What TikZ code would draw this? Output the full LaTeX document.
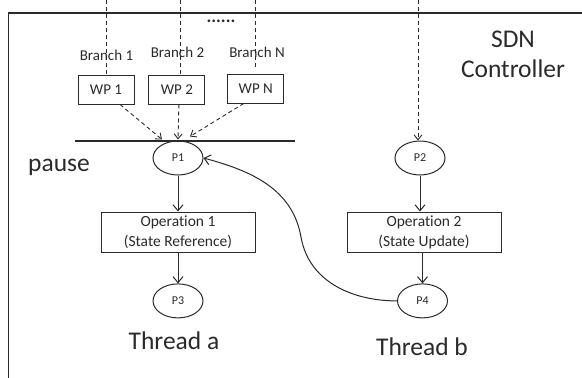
\documentclass[tikz,border=0pt]{standalone}
\usepackage{fontspec}
\setmainfont[Ligatures=NoCommon]{Carlito}
\usetikzlibrary{positioning,shapes.geometric,arrows.meta}
\definecolor{ink}{HTML}{2A2A2A}
\tikzset{
  place/.style={ellipse,draw=ink,line width=1pt,minimum width=50pt,minimum height=34pt,inner sep=0pt,font=\fontsize{12}{14}\selectfont},
  opbox/.style={rectangle,draw=ink,line width=0.9pt,minimum width=154pt,minimum height=40pt,inner sep=0pt,align=center,font=\fontsize{15.5}{20}\selectfont},
  wpbox/.style={rectangle,draw=ink,line width=0.9pt,minimum width=56pt,minimum height=29pt,inner sep=0pt,font=\fontsize{15}{18}\selectfont},
  small/.style={font=\fontsize{15}{18}\selectfont,inner sep=0pt,anchor=base},
  big/.style={font=\fontsize{25.5}{30}\selectfont,inner sep=0pt,anchor=base},
  flow/.style={draw=ink,line width=1pt,-{Straight Barb[length=6pt,width=10pt]}},
  branchline/.style={draw=ink,line width=0.9pt,dash pattern=on 4pt off 3pt},
  feedline/.style={branchline,-{Straight Barb[length=5pt,width=8pt]}},
}
\begin{document}
\begin{tikzpicture}[x=1pt,y=1pt,text=ink]

    \useasboundingbox (0,0) rectangle (582,-378);

    % Define nodes
    \node[place]                                  (p1) at (178,-158) {P1};
    \node[opbox, below=36pt of p1]                (op-1) {Operation 1\\(State Reference)};
    \node[place, below=31pt of op-1]              (p3) {P3};
    \node[place]                                  (p2) at (420,-158) {P2};
    \node[opbox, below=36pt of p2, xshift=4pt]    (op-2) {Operation 2\\(State Update)};
    \node[place, below=31pt of op-2, xshift=-1.5pt] (p4) {P4};

    \node[wpbox]                                  (wp-1) at (106,-89.5) {WP 1};
    \node[wpbox, right=14pt of wp-1]              (wp-2) {WP 2};
    \node[wpbox, right=22pt of wp-2, yshift=1pt]  (wp-n) {WP N};
    \node[small]                                  (branch-1) at (106.5,-60) {Branch 1};
    \node[small]                                  (branch-2) at (177.5,-57) {Branch 2};
    \node[small]                                  (branch-n) at (257,-57) {Branch N};
    \node[font=\fontsize{18}{18}\selectfont\bfseries, inner sep=0pt, anchor=base] (dots) at (221,-22) {......};

    \node[big]                                    (pause) at (59,-171) {pause};
    \node[big]                                    (sdn) at (513,-47) {SDN};
    \node[big]                                    (ctrl) at (513,-77) {Controller};
    \node[big]                                    (thread-a) at (174,-349) {Thread a};
    \node[big]                                    (thread-b) at (422,-355) {Thread b};

    \coordinate (in-1) at (106.5,0);
    \coordinate (in-2) at (180,0);
    \coordinate (in-n) at (255,0);
    \coordinate (in-n-end) at (255,-68);
    \coordinate (in-b) at (418,0);
    \coordinate (bend) at (301,-237);

    % Controller frame and pause bar
    \draw[draw=ink, line width=1.2pt] (582,-13) -- (8.5,-13) -- (8.5,-378);
    \draw[draw=ink, line width=1.6pt] (75,-141) -- (295,-141);

    % Connect the nodes
    \draw[branchline] (in-1) -- (in-1 |- wp-1.north);
    \draw[branchline] (in-2) -- (in-2 |- wp-2.north);
    \draw[branchline] (in-n) -- (in-n-end);
    \draw[feedline] (in-b) -- (in-b |- p2.north);
    \draw[feedline] ([xshift=14pt]wp-1.south) -- ([xshift=-16pt,yshift=1pt]p1.north);
    \draw[feedline] ([xshift=2pt]wp-2.south) -- ([yshift=1pt]p1.north);
    \draw[feedline] ([xshift=-12pt]wp-n.south) -- ([xshift=12pt,yshift=4pt]p1.north);
    \draw[flow] (p1) -- (op-1);
    \draw[flow] (op-1) -- (p3);
    \draw[flow] (p2) -- (p2 |- op-2.north);
    \draw[flow] (p4 |- op-2.south) -- (p4);
    \draw[flow] (p4.west) to[out=180,in=-80] (bend) to[out=100,in=-15] (p1.east);

\end{tikzpicture}
\end{document}
